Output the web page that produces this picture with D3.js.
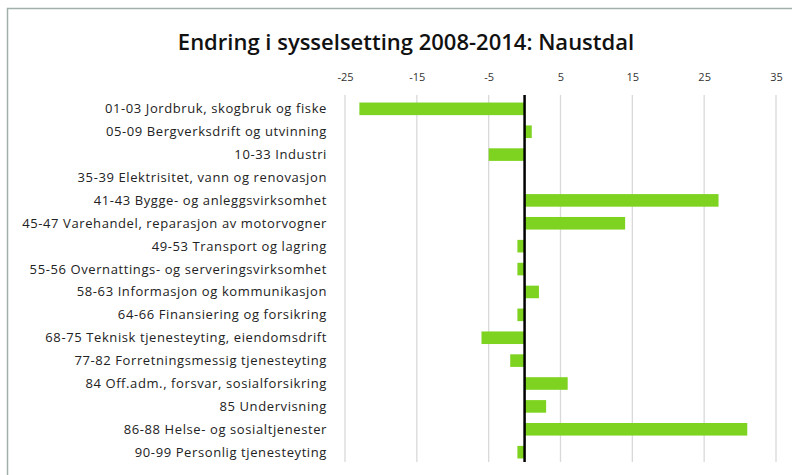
<!DOCTYPE html>
<html>
<head>
<meta charset="utf-8">
<script src="https://cdn.jsdelivr.net/npm/d3@7"></script>
<style>
  body { margin: 0; background: #fff; }
  text { font-family: "Open Sans", sans-serif; }
</style>
</head>
<body>
<div id="chart-area"></div>
<script>
// data
const categories = [
    "01-03 Jordbruk, skogbruk og fiske",
    "05-09 Bergverksdrift og utvinning",
    "10-33 Industri",
    "35-39 Elektrisitet, vann og renovasjon",
    "41-43 Bygge- og anleggsvirksomhet",
    "45-47 Varehandel, reparasjon av motorvogner",
    "49-53 Transport og lagring",
    "55-56 Overnattings- og serveringsvirksomhet",
    "58-63 Informasjon og kommunikasjon",
    "64-66 Finansiering og forsikring",
    "68-75 Teknisk tjenesteyting, eiendomsdrift",
    "77-82 Forretningsmessig tjenesteyting",
    "84 Off.adm., forsvar, sosialforsikring",
    "85 Undervisning",
    "86-88 Helse- og sosialtjenester",
    "90-99 Personlig tjenesteyting"
]
const values = [-23, 1, -5, 0, 27, 14, -1, -1, 2, -1, -6, -2, 6, 3, 31, -1]
const tickValues = [-25, -15, -5, 5, 15, 25, 35]
const title = "Endring i sysselsetting 2008-2014: Naustdal"

const width = 792, height = 475

const svg = d3.select("#chart-area").append("svg")
    .attr("width", width)
    .attr("height", height)

// outer chart frame
svg.append("rect")
    .attr("x", 7.5)
    .attr("y", 8.5)
    .attr("width", 800)
    .attr("height", 480)
    .attr("fill", "none")
    .attr("stroke", "#9fb0ad")
    .attr("stroke-width", 1.5)

svg.append("text")
    .attr("x", 406)
    .attr("y", 50)
    .attr("text-anchor", "middle")
    .attr("font-size", 22)
    .attr("font-weight", 600)
    .attr("fill", "#111")
    .text(title)

const x = d3.scaleLinear()
    .domain([-25, 35])
    .range([345, 776])

const y = d3.scaleBand()
    .domain(categories)
    .range([97.5, 463.5])
    .paddingInner(0.45)
    .paddingOuter(0.22)

// gridlines
svg.append("g")
    .selectAll("line")
    .data(tickValues)
    .join("line")
    .attr("x1", d => x(d))
    .attr("x2", d => x(d))
    .attr("y1", 95)
    .attr("y2", 462)
    .attr("stroke", "#d9d9d9")
    .attr("stroke-width", 1.3)

// top axis labels
const axis = svg.append("g")
    .attr("transform", "translate(0,81)")
    .call(d3.axisTop(x).tickValues(tickValues).tickFormat(d => String(d)).tickSize(0).tickPadding(0))
axis.select(".domain").remove()
axis.selectAll("text")
    .attr("font-size", 11)
    .attr("font-family", "Open Sans, sans-serif")
    .attr("fill", "#333")

// bars
svg.append("g")
    .selectAll("rect")
    .data(values)
    .join("rect")
    .attr("x", d => x(Math.min(0, d)))
    .attr("y", (d, i) => y(categories[i]))
    .attr("width", d => Math.abs(x(d) - x(0)))
    .attr("height", y.bandwidth())
    .attr("fill", "#7ed321")

// zero line
svg.append("line")
    .attr("x1", x(0))
    .attr("x2", x(0))
    .attr("y1", 95)
    .attr("y2", 462)
    .attr("stroke", "#000")
    .attr("stroke-width", 2.5)

// category labels
svg.append("g")
    .selectAll("text")
    .data(categories)
    .join("text")
    .attr("x", 327)
    .attr("y", d => y(d) + y.bandwidth() / 2)
    .attr("dy", "0.35em")
    .attr("text-anchor", "end")
    .attr("font-size", 13)
    .attr("letter-spacing", 0.6)
    .attr("fill", "#222")
    .text(d => d)
</script>
</body>
</html>
